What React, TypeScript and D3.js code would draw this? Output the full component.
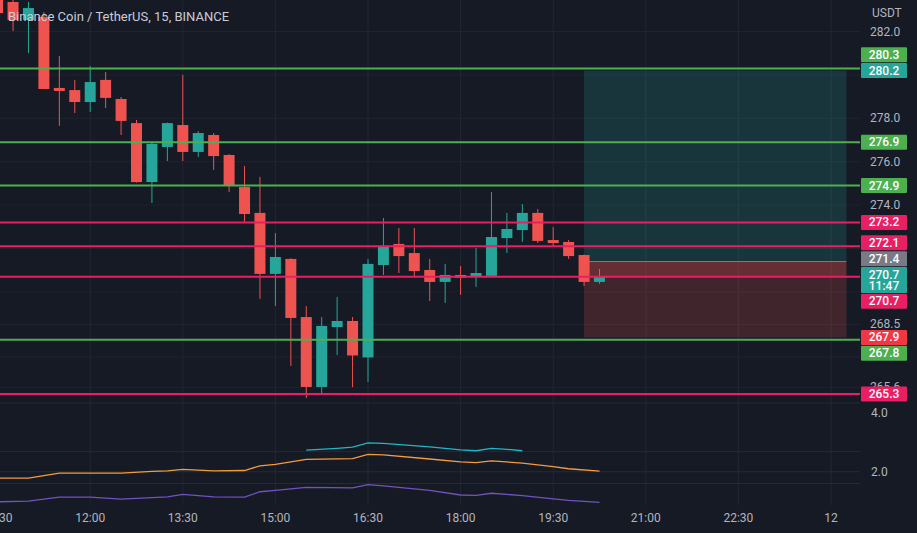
import React from "react";
import * as d3 from "d3";

const WIDTH = 917;
const HEIGHT = 533;
const BG = "#161a25";
const PLOT_R = 860;
const MAIN_B = 403;
const IND_B = 505;

const UP = "#26a69a";
const DOWN = "#ef5350";
const GREEN = "#4caf50";
const PINK = "#e91e63";
const GRAY = "#787b86";
const RED = "#f23645";

const candleTimes = ["10:30","10:45","11:00","11:15","11:30","11:45","12:00","12:15","12:30","12:45","13:00","13:15","13:30","13:45","14:00","14:15","14:30","14:45","15:00","15:15","15:30","15:45","16:00","16:15","16:30","16:45","17:00","17:15","17:30","17:45","18:00","18:15","18:30","18:45","19:00","19:15","19:30","19:45","20:00","20:15"];
const opens = [284.37,283.36,282.53,282.67,279.40,279.30,278.75,279.77,278.89,277.78,275.06,276.68,277.69,276.45,277.23,276.31,274.83,273.64,270.83,271.52,268.84,265.62,268.38,268.66,266.98,271.24,272.21,271.79,271.01,270.46,270.78,270.69,270.74,272.48,272.85,273.64,272.39,272.30,271.70,270.46];
const highs = [284.83,283.68,283.36,282.90,280.87,279.77,280.41,280.13,278.98,277.92,276.91,277.80,280.00,277.41,277.32,276.35,275.80,275.30,272.71,271.55,269.35,268.84,269.77,268.84,271.52,273.41,272.94,272.94,271.52,271.29,271.19,272.02,274.60,273.64,274.05,273.82,272.99,272.39,271.72,271.06];
const lows = [282.53,282.02,281.01,279.35,277.65,278.24,278.29,278.47,277.23,275.04,274.10,276.03,276.03,276.22,275.62,274.60,273.22,269.68,269.35,266.59,265.11,265.34,267.09,265.61,265.85,270.78,270.87,270.69,269.58,269.49,269.86,270.23,270.69,271.79,272.30,272.25,272.12,271.52,270.27,270.37];
const closes = [282.85,282.53,283.08,279.35,279.26,278.75,279.67,278.94,277.88,275.06,276.82,277.78,276.45,277.32,276.26,274.88,273.59,270.83,271.61,268.80,265.62,268.43,268.66,267.07,271.29,272.12,271.65,270.96,270.46,270.78,270.65,270.87,272.53,272.90,273.64,272.35,272.25,271.65,270.46,270.69];

// horizontal drawn levels
const greenLevels = [280.3, 276.9, 274.9, 267.8];
const pinkLevels = [273.2, 272.1, 270.7, 265.3];

// long position tool
const posStart = "20:00";
const posEnd = "24:15";
const posTarget = 280.2;
const posEntry = 271.4;
const posStop = 267.9;
const lastPrice = 270.69;
const countdown = "11:47";

// price axis tags (top to bottom order)
const tagValues = [280.3, 280.2, 276.9, 274.9, 273.2, 272.1, 271.4, 270.69, 270.7, 267.9, 267.8, 265.3];
const tagColors = [GREEN, UP, GREEN, GREEN, PINK, PINK, GRAY, UP, PINK, RED, GREEN, PINK];
const tagAnchor = 7;

const priceTicks = [282, 280, 278, 276, 274, 272, 270, 268.5, 267, 265.6];
const timeTicks = ["10:30","12:00","13:30","15:00","16:30","18:00","19:30","21:00","22:30","24:00"];

// indicator pane
const indTicks = [4.0, 2.0];
const indLevels = [2.68, 2.0, 1.6];
const orangeTimes = ["10:30","11:00","11:30","12:30","13:00","13:15","13:30","14:00","14:30","14:45","15:00","15:30","16:15","16:30","16:45","17:30","18:00","18:15","18:30","19:00","19:30","19:45","20:15"];
const orangeValues = [1.78,1.78,1.95,1.95,2.01,2.03,2.08,2.03,2.04,2.20,2.25,2.42,2.44,2.59,2.57,2.43,2.33,2.31,2.37,2.29,2.17,2.10,2.02];
const cyanTimes = ["15:30","16:00","16:15","16:30","16:45","17:30","18:00","18:15","18:30","18:45","19:00"];
const cyanValues = [2.73,2.79,2.83,2.98,2.96,2.84,2.74,2.71,2.79,2.76,2.71];
const purpleTimes = ["10:30","11:00","11:30","12:00","12:30","13:15","13:30","14:00","14:30","14:45","15:00","15:30","16:15","16:30","16:45","17:30","18:00","18:15","18:30","19:00","19:30","19:45","20:15"];
const purpleValues = [0.98,1.00,1.14,1.14,1.07,1.15,1.23,1.15,1.14,1.32,1.37,1.47,1.45,1.56,1.52,1.37,1.21,1.20,1.27,1.19,1.08,1.03,0.96];

const FONT = "Roboto, 'Noto Sans', sans-serif";

function parseT(s: string): Date {
  const [h, m] = s.split(":").map(Number);
  return new Date(2021, 4, 11, h, m);
}

export default function App() {
  const x = d3.scaleTime().domain([parseT("12:00"), parseT("24:00")]).range([90.2, 831]);
  const y = d3.scaleLinear().domain([282, 274]).range([31.5, 205.1]);
  const yi = d3.scaleLinear().domain([4, 2]).range([412.7, 471.7]);
  const fmt = d3.format(".1f");
  const bodyW = 11;

  const candles = candleTimes.map((t, i) => ({
    x: x(parseT(t)), o: opens[i], h: highs[i], l: lows[i], c: closes[i],
  }));

  // tag layout: last-price tag fixed, the others pushed away from it
  const tagH = 15, gap = 0.8;
  const tags = tagValues.map((v, i) => {
    const yc = y(v);
    const dbl = i === tagAnchor;
    return { v, color: tagColors[i], yc, top: dbl ? yc - 10 : yc - tagH / 2, h: dbl ? 26 : tagH, dbl };
  });
  let limit = tags[tagAnchor].top - gap;
  for (let k = tagAnchor - 1; k >= 0; k--) {
    const t = tags[k];
    if (t.top + t.h > limit) t.top = limit - t.h;
    limit = t.top - gap;
  }
  limit = tags[tagAnchor].top + tags[tagAnchor].h + gap;
  for (let k = tagAnchor + 1; k < tags.length; k++) {
    const t = tags[k];
    if (t.top < limit) t.top = limit;
    limit = t.top + t.h + gap;
  }

  // hide axis tick labels that are mostly covered by a tag
  const visibleTicks = priceTicks.filter((p) => {
    const a = y(p) - 6, b = y(p) + 6;
    return !tags.some((t) => {
      const ov = Math.min(b, t.top + t.h) - Math.max(a, t.top);
      return ov > 7;
    });
  });

  const line = (times: string[], vals: number[]) =>
    d3.line<number>().x((_, i) => x(parseT(times[i]))).y((v) => yi(v))(vals) || "";

  const px0 = x(parseT(posStart));
  const px1 = x(parseT(posEnd));

  return (
    <svg width={WIDTH} height={HEIGHT} style={{ position: "fixed", left: 0, top: 0, background: BG }} fontFamily={FONT}>
      <defs>
        <clipPath id="mainClip"><rect x={0} y={0} width={PLOT_R} height={MAIN_B} /></clipPath>
        <clipPath id="indClip"><rect x={0} y={MAIN_B} width={PLOT_R} height={IND_B - MAIN_B} /></clipPath>
      </defs>
      <rect x={0} y={0} width={WIDTH} height={HEIGHT} fill={BG} />
      {/* grid */}
      <g clipPath="url(#mainClip)">
        {priceTicks.map((p) => (
          <line key={p} x1={0} x2={PLOT_R} y1={y(p)} y2={y(p)} stroke="#1f2330" strokeWidth={1} />
        ))}
      </g>
      {timeTicks.map((t) => (
        <line key={t} x1={x(parseT(t))} x2={x(parseT(t))} y1={0} y2={IND_B} stroke="#222633" strokeWidth={1} />
      ))}
      {indLevels.map((v) => (
        <line key={v} x1={0} x2={PLOT_R} y1={yi(v)} y2={yi(v)} stroke="#262a36" strokeWidth={1} />
      ))}
      <line x1={0} x2={PLOT_R} y1={MAIN_B} y2={MAIN_B} stroke="#252935" strokeWidth={1} />

      {/* position tool */}
      <g clipPath="url(#mainClip)">
        <rect x={px0} y={y(posTarget)} width={px1 - px0} height={y(posEntry) - y(posTarget)} fill="rgba(38,166,154,0.2)" />
        <rect x={px0} y={y(posEntry)} width={px1 - px0} height={y(posStop) - y(posEntry)} fill="rgba(239,83,80,0.2)" />
        <rect x={px0} y={y(posEntry)} width={px1 - px0} height={y(lastPrice) - y(posEntry)} fill="rgba(239,83,80,0.2)" />
        <line x1={px0} x2={px1} y1={y(posEntry)} y2={y(posEntry)} stroke={GRAY} strokeWidth={1} />
      </g>

      {/* candles */}
      <g clipPath="url(#mainClip)">
        {candles.map((d, i) => {
          const col = d.c >= d.o ? UP : DOWN;
          const top = y(Math.max(d.o, d.c));
          const bot = y(Math.min(d.o, d.c));
          return (
            <g key={i}>
              <line x1={d.x} x2={d.x} y1={y(d.h)} y2={y(d.l)} stroke={col} strokeWidth={1} />
              <rect x={d.x - bodyW / 2} y={top} width={bodyW} height={Math.max(1, bot - top)} fill={col} />
            </g>
          );
        })}
      </g>

      {/* drawn levels */}
      <g clipPath="url(#mainClip)">
        {greenLevels.map((p) => (
          <line key={"g" + p} x1={0} x2={PLOT_R} y1={y(p)} y2={y(p)} stroke={GREEN} strokeWidth={2} />
        ))}
        {pinkLevels.map((p) => (
          <line key={"p" + p} x1={0} x2={PLOT_R} y1={y(p)} y2={y(p)} stroke={PINK} strokeWidth={2} />
        ))}
      </g>

      {/* indicator */}
      <g clipPath="url(#indClip)" fill="none" strokeWidth={1.3}>
        <path d={line(orangeTimes, orangeValues)} stroke="#f39c3c" />
        <path d={line(cyanTimes, cyanValues)} stroke="#22b5c8" />
        <path d={line(purpleTimes, purpleValues)} stroke="#7351c0" />
      </g>

      {/* title */}
      <text x={8} y={16} dominantBaseline="central" fontSize={13} fill="#c9ccd4">Binance Coin / TetherUS, 15, BINANCE</text>

      {/* price axis */}
      <text x={872} y={13} dominantBaseline="central" fontSize={12} fill="#b2b5be">USDT</text>
      {visibleTicks.map((p) => (
        <text key={p} x={870} y={y(p)} dominantBaseline="central" fontSize={12} fill="#b2b5be">{fmt(p)}</text>
      ))}
      {indTicks.map((v) => (
        <text key={v} x={871} y={yi(v)} dominantBaseline="central" fontSize={12} fill="#b2b5be">{fmt(v)}</text>
      ))}
      {tags.map((t, i) => (
        <g key={i}>
          <rect x={861} y={t.top} width={46} height={t.h} fill={t.color} rx={1} />
          <text x={884} y={t.dbl ? t.top + 8 : t.top + t.h / 2} textAnchor="middle" dominantBaseline="central" fontSize={12} fontWeight={500} fill="#ffffff">{fmt(t.v)}</text>
          {t.dbl && (
            <text x={884} y={t.top + 19} textAnchor="middle" dominantBaseline="central" fontSize={12} fontWeight={500} fill="#ffffff">{countdown}</text>
          )}
        </g>
      ))}

      {/* time axis */}
      {timeTicks.map((t) => {
        const d = parseT(t);
        const label = d.getHours() === 0 && d.getMinutes() === 0 ? d3.timeFormat("%-d")(d) : d3.timeFormat("%H:%M")(d);
        return (
          <text key={t} x={x(d)} y={518} textAnchor="middle" dominantBaseline="central" fontSize={12} fill="#b2b5be">{label}</text>
        );
      })}
    </svg>
  );
}
